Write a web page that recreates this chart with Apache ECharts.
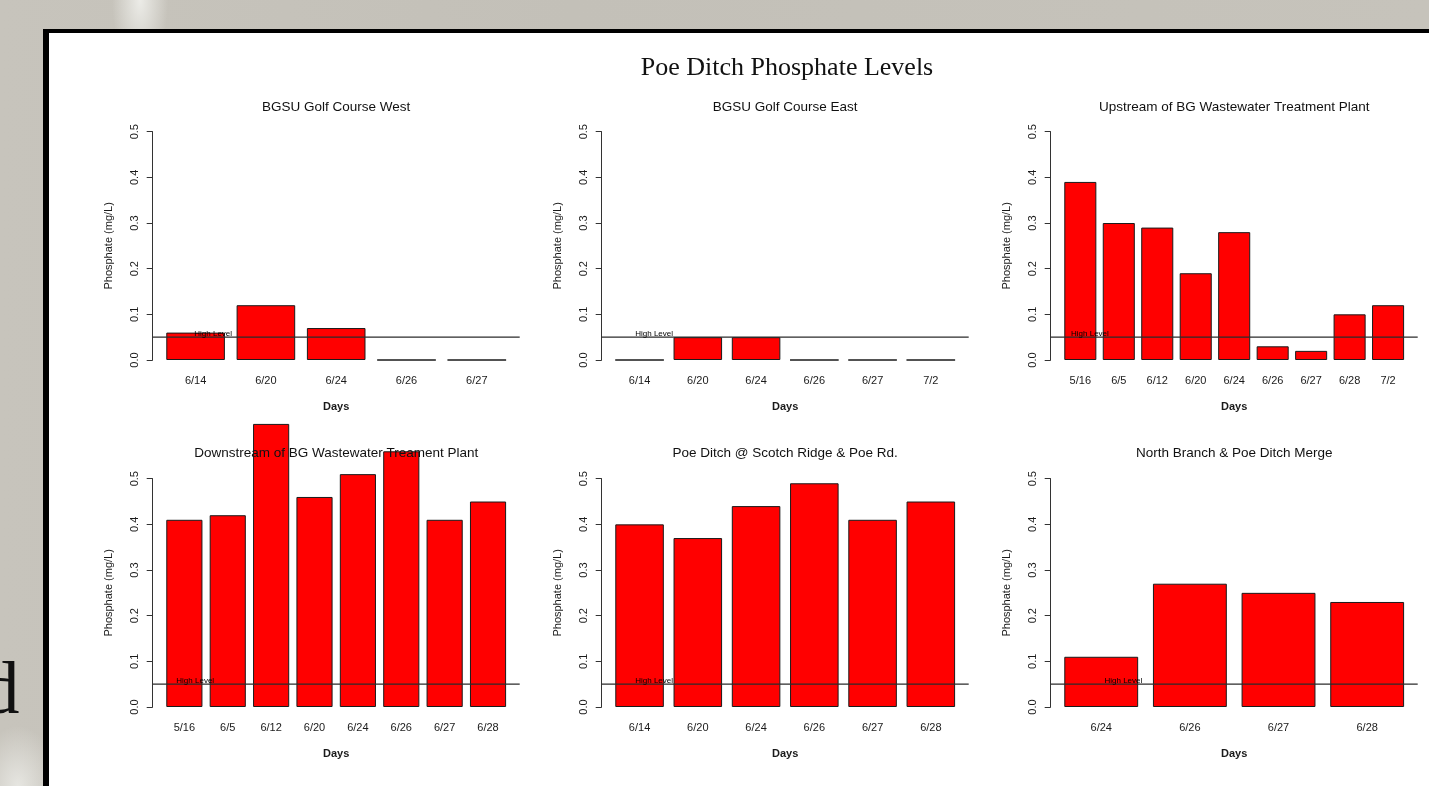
<!DOCTYPE html>
<html>
<head>
<meta charset="utf-8">
<title>Poe Ditch Phosphate Levels</title>
<script src="https://cdn.jsdelivr.net/npm/echarts@6/dist/echarts.min.js"></script>
<style>
  html, body { margin: 0; padding: 0; width: 1429px; height: 786px; overflow: hidden; }
  body {
    position: relative;
    background:
      radial-gradient(ellipse 28px 70px at 140px 0px, rgba(240,240,236,0.9), rgba(240,240,236,0) 100%),
      radial-gradient(ellipse 40px 60px at 18px 786px, rgba(238,238,234,0.8), rgba(238,238,234,0) 100%),
      linear-gradient(to right, #c7c4bc, #c3c0b8 40%, #c6c3bb);
  }
  #slideText {
    position: absolute; left: -18px; top: 650px;
    font-family: "Liberation Serif", serif; font-size: 75px; line-height: 75px;
    color: #111;
  }
  #panel {
    position: absolute; left: 43px; top: 29px; width: 1500px; height: 900px;
    background: #fff; border-left: 6px solid #000; border-top: 4px solid #000;
  }
  #chart { position: absolute; left: 0; top: 0; width: 1429px; height: 786px; }
</style>
</head>
<body>
<div id="slideText">d</div>
<div id="panel"></div>
<div id="chart"></div>
<script>
// Sampling sites and their phosphate readings (mg/L)
const siteTitles = [
  'BGSU Golf Course West',
  'BGSU Golf Course East',
  'Upstream of BG Wastewater Treatment Plant',
  'Downstream of BG Wastewater Treament Plant',
  'Poe Ditch @ Scotch Ridge & Poe Rd.',
  'North Branch & Poe Ditch Merge'
];
const golfWestDays = ['6/14', '6/20', '6/24', '6/26', '6/27'];
const golfWestValues = [0.06, 0.12, 0.07, 0, 0];
const golfEastDays = ['6/14', '6/20', '6/24', '6/26', '6/27', '7/2'];
const golfEastValues = [0, 0.05, 0.05, 0, 0, 0];
const upstreamDays = ['5/16', '6/5', '6/12', '6/20', '6/24', '6/26', '6/27', '6/28', '7/2'];
const upstreamValues = [0.39, 0.30, 0.29, 0.19, 0.28, 0.03, 0.02, 0.10, 0.12];
const downstreamDays = ['5/16', '6/5', '6/12', '6/20', '6/24', '6/26', '6/27', '6/28'];
const downstreamValues = [0.41, 0.42, 0.62, 0.46, 0.51, 0.56, 0.41, 0.45];
const scotchRidgeDays = ['6/14', '6/20', '6/24', '6/26', '6/27', '6/28'];
const scotchRidgeValues = [0.40, 0.37, 0.44, 0.49, 0.41, 0.45];
const mergeDays = ['6/24', '6/26', '6/27', '6/28'];
const mergeValues = [0.11, 0.27, 0.25, 0.23];

// y axis ticks: 0.0 .. 0.5 by 0.1
const yMin = 0, yMax = 0.5, yStep = 0.1;
// "High Level" threshold line and its label position
const HIGH_LEVEL = 0.05;
const HIGH_LABEL_Y = 0.058;
const HIGH_LABEL_X = 1;

const panels = [
  { title: siteTitles[0], days: golfWestDays, values: golfWestValues },
  { title: siteTitles[1], days: golfEastDays, values: golfEastValues },
  { title: siteTitles[2], days: upstreamDays, values: upstreamValues },
  { title: siteTitles[3], days: downstreamDays, values: downstreamValues },
  { title: siteTitles[4], days: scotchRidgeDays, values: scotchRidgeValues },
  { title: siteTitles[5], days: mergeDays, values: mergeValues }
];

// panel frame layout (pixels)
const COL_LEFT = [152.7, 601.7, 1050.7];
const ROW_TOP = [131.7, 478.7];
const PLOT_W = 367;
const PLOT_H = 228.3;
const FONT = '"Liberation Sans", Arial, sans-serif';
const INK = '#1a1a1a';

const grids = [], xAxes = [], yAxes = [], series = [], graphics = [];

panels.forEach((p, k) => {
  const col = k % 3, row = Math.floor(k / 3);
  const left = COL_LEFT[col], top = ROW_TOP[row];
  const n = p.days.length;
  // barplot-style spacing: bars of width 1 with 0.2 gaps, 4% padding on each side
  const span = 1.2 * n - 0.2;
  const unit = PLOT_W / (1.08 * span);
  const inset = (0.04 * span - 0.1) * unit;
  const xMin = 0.2 - 0.04 * span;
  const xMax = 1.2 * n + 0.04 * span;
  const gFrame = 2 * k, gBars = 2 * k + 1;

  grids.push({ left: left, top: top, width: PLOT_W, height: PLOT_H });
  grids.push({ left: left + inset, top: top, width: PLOT_W - 2 * inset, height: PLOT_H });

  xAxes.push({ gridIndex: gFrame, type: 'value', min: xMin, max: xMax, show: false });
  xAxes.push({
    gridIndex: gBars, type: 'category', data: p.days,
    axisLine: { show: false }, axisTick: { show: false }, splitLine: { show: false },
    axisLabel: { margin: 15, fontSize: 11, color: INK, fontFamily: FONT, interval: 0 },
    name: 'Days', nameLocation: 'middle', nameGap: 41,
    nameTextStyle: { fontSize: 11, fontWeight: 'bold', color: INK, fontFamily: FONT }
  });

  yAxes.push({
    gridIndex: gFrame, type: 'value', min: yMin, max: yMax, interval: yStep,
    axisLine: { show: true, onZero: false, lineStyle: { color: '#333', width: 1 } },
    axisTick: { show: true, length: 6, lineStyle: { color: '#333', width: 1 } },
    splitLine: { show: false },
    axisLabel: {
      rotate: 90, margin: 12, fontSize: 11, color: INK, fontFamily: FONT,
      formatter: v => v.toFixed(1)
    },
    name: 'Phosphate (mg/L)', nameLocation: 'middle', nameRotate: 90, nameGap: 38,
    nameTextStyle: { fontSize: 11, color: INK, fontFamily: FONT }
  });
  yAxes.push({ gridIndex: gBars, type: 'value', min: yMin, max: yMax, show: false });

  series.push({
    type: 'bar', xAxisIndex: gBars, yAxisIndex: gBars, data: p.values,
    barWidth: (100 / 1.2) + '%', clip: false, silent: true, animation: false,
    itemStyle: { color: '#ff0000', borderColor: '#1a1a1a', borderWidth: 1 }
  });
  series.push({
    type: 'line', xAxisIndex: gFrame, yAxisIndex: gFrame, z: 4,
    data: [[xMin, HIGH_LEVEL], [xMax, HIGH_LEVEL]],
    symbol: 'none', silent: true, animation: false,
    lineStyle: { color: '#2b2b2b', width: 1.3 }
  });
  series.push({
    type: 'scatter', xAxisIndex: gFrame, yAxisIndex: gFrame, z: 5,
    data: [[HIGH_LABEL_X, HIGH_LABEL_Y]], symbolSize: 0, silent: true, animation: false,
    itemStyle: { opacity: 1 },
    label: {
      show: true, position: 'inside', formatter: 'High Level',
      fontSize: 8, color: '#000', fontFamily: FONT,
      textBorderWidth: 0, opacity: 1
    }
  });

  graphics.push({
    type: 'text', z: 10,
    x: left + PLOT_W / 2, y: row === 0 ? 107.3 : 453.3,
    style: {
      text: p.title, fill: '#111', font: '13.5px ' + FONT,
      textAlign: 'center', textVerticalAlign: 'middle'
    }
  });
});

graphics.push({
  type: 'text', z: 10, x: 787, y: 68,
  style: {
    text: 'Poe Ditch Phosphate Levels', fill: '#111',
    font: '26px "Liberation Serif", serif',
    textAlign: 'center', textVerticalAlign: 'middle'
  }
});

const chart = echarts.init(document.getElementById('chart'), null, { renderer: 'canvas' });
chart.setOption({
  backgroundColor: 'transparent',
  animation: false,
  grid: grids,
  xAxis: xAxes,
  yAxis: yAxes,
  series: series,
  graphic: graphics
});
</script>
</body>
</html>
